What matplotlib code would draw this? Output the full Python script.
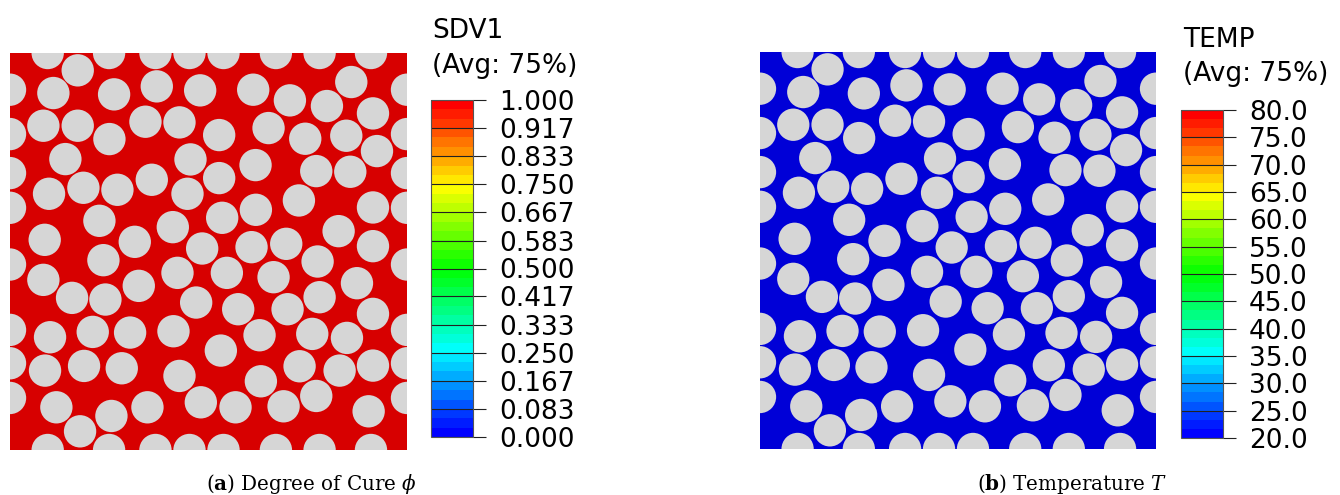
import numpy as np
import matplotlib
matplotlib.use("Agg")
import matplotlib.pyplot as plt
from matplotlib.patches import Circle
from matplotlib.colors import LinearSegmentedColormap, ListedColormap, BoundaryNorm
from matplotlib.cm import ScalarMappable

plt.rcParams['mathtext.fontset'] = 'dejavuserif'

# Periodic RVE: side length and fibre radius (um)
cell_size = 119.0
fiber_radius = 4.85

# Fibre centres (fibres cut by the boundary sit on x=0 or y=0 and repeat periodically)
fiber_x = [11.3, 29.7, 43.6, 53.8, 64.0, 79.7, 92.8, 108.2,
           0.0, 0.0, 0.0, 0.0, 0.0, 0.0, 0.0, 0.0,
           20.3, 13.0, 31.2, 44.0, 57.0, 72.9, 83.9, 95.0, 102.3, 108.8,
           10.0, 20.3, 29.8, 40.6, 50.8, 62.7, 77.5, 88.5, 100.8, 110.0,
           16.6, 54.1, 73.6, 91.8, 102.0,
           11.7, 22.0, 32.2, 42.5, 53.2, 62.7, 73.7, 86.6, 108.8,
           26.8, 48.8, 63.6, 98.5,
           10.4, 37.4, 57.6, 72.4, 82.8, 108.8,
           28.0, 92.2, 50.2, 65.0, 79.0, 104.0, 10.0,
           18.6, 28.6, 38.6, 55.8, 68.4, 83.2, 92.8, 108.8,
           12.0, 24.8, 36.0, 49.0, 74.8, 90.6, 101.0, 63.2,
           10.5, 22.2, 33.5, 50.8, 86.8, 98.8, 108.8, 75.2,
           13.9, 30.4, 41.2, 57.2, 67.6, 82.0, 91.8, 107.5, 21.0]
fiber_y = [0.0, 0.0, 0.0, 0.0, 0.0, 0.0, 0.0, 0.0,
           108.0, 94.7, 83.0, 72.6, 55.6, 36.0, 26.0, 15.6,
           113.8, 107.0, 106.6, 109.0, 107.8, 108.0, 104.8, 103.1, 110.3, 100.9,
           97.2, 97.2, 93.2, 98.4, 98.2, 94.4, 96.5, 93.3, 94.2, 89.6,
           87.2, 87.1, 85.4, 83.6, 83.4,
           76.8, 78.6, 78.0, 81.0, 76.8, 81.5, 72.0, 74.8, 72.7,
           68.7, 66.8, 69.6, 65.6,
           63.0, 62.4, 60.4, 60.8, 61.8, 61.1,
           56.9, 56.5, 53.1, 53.1, 51.8, 50.0, 51.0,
           45.6, 45.1, 49.2, 44.2, 42.2, 42.2, 45.8, 40.8,
           33.8, 35.4, 35.2, 35.6, 34.4, 34.8, 33.6, 29.8,
           23.8, 25.2, 24.5, 22.2, 25.1, 23.8, 25.3, 20.6,
           12.8, 10.2, 12.8, 14.3, 12.8, 13.1, 16.2, 11.6, 5.6]

# Contour legends
cure_ticks = [0.000, 0.083, 0.167, 0.250, 0.333, 0.417, 0.500,
              0.583, 0.667, 0.750, 0.833, 0.917, 1.000]
cure_labels = ['0.000', '0.083', '0.167', '0.250', '0.333', '0.417', '0.500',
               '0.583', '0.667', '0.750', '0.833', '0.917', '1.000']
temp_ticks = [20.0, 25.0, 30.0, 35.0, 40.0, 45.0, 50.0,
              55.0, 60.0, 65.0, 70.0, 75.0, 80.0]
temp_labels = ['20.0', '25.0', '30.0', '35.0', '40.0', '45.0', '50.0',
               '55.0', '60.0', '65.0', '70.0', '75.0', '80.0']

# Field value in the matrix for each plot
matrix_cure = 1.0
matrix_temp = 20.0

n_bands = 36
fiber_color = '#d6d6d6'
shade = 0.845

rainbow = LinearSegmentedColormap.from_list(
    'spectrum', ['#0000ff', '#00ffff', '#00ff00', '#ffff00', '#ff0000'])
band_colors = [rainbow(i / (n_bands - 1)) for i in range(n_bands)]
band_cmap = ListedColormap(band_colors)


def band_color(value, vmin, vmax):
    idx = min(int((value - vmin) / (vmax - vmin) * n_bands), n_bands - 1)
    r, g, b, _ = band_colors[idx]
    return (r * shade, g * shade, b * shade)


W, H = 1340, 495
fig = plt.figure(figsize=(W / 100, H / 100), dpi=100)


def fig_rect(x0, y0, x1, y1):
    return [x0 / W, 1 - y1 / H, (x1 - x0) / W, (y1 - y0) / H]


def draw_rve(rect, matrix_color):
    ax = fig.add_axes(rect)
    ax.set_facecolor(matrix_color)
    for x, y in zip(fiber_x, fiber_y):
        for dx in (-cell_size, 0.0, cell_size):
            for dy in (-cell_size, 0.0, cell_size):
                cx, cy = x + dx, y + dy
                if (-fiber_radius < cx < cell_size + fiber_radius and
                        -fiber_radius < cy < cell_size + fiber_radius):
                    ax.add_patch(Circle((cx, cy), fiber_radius,
                                        facecolor=fiber_color, edgecolor='none'))
    ax.set_xlim(0, cell_size)
    ax.set_ylim(0, cell_size)
    ax.set_xticks([])
    ax.set_yticks([])
    for s in ax.spines.values():
        s.set_visible(False)
    return ax


def draw_legend(rect, ticks, labels, title, title_xy, avg_y):
    cax = fig.add_axes(rect)
    vmin, vmax = ticks[0], ticks[-1]
    norm = BoundaryNorm(np.linspace(vmin, vmax, n_bands + 1), n_bands)
    cb = fig.colorbar(ScalarMappable(norm=norm, cmap=band_cmap), cax=cax)
    cb.set_ticks(ticks, labels=labels)
    cb.minorticks_off()
    cax.tick_params(axis='y', length=9.6, width=0.8, color='#222222',
                    labelsize=19, pad=9, direction='out')
    cax.hlines(ticks, 0, 1, colors='#222222', lw=0.8,
               transform=cax.get_yaxis_transform())
    cb.outline.set_edgecolor('#555555')
    cb.outline.set_linewidth(0.8)
    fig.text(title_xy[0] / W, 1 - title_xy[1] / H, title, fontsize=19,
             ha='left', va='baseline')
    fig.text(title_xy[0] / W, 1 - avg_y / H, '(Avg: 75%)', fontsize=19,
             ha='left', va='baseline')
    return cb


plt.rcParams['font.family'] = ['DejaVu Sans']

# (a) degree of cure
draw_rve(fig_rect(10, 53, 407, 450), band_color(matrix_cure, 0.0, 1.0))
draw_legend(fig_rect(431, 100, 473, 437), cure_ticks, cure_labels,
            'SDV1', (432, 38.3), 72.7)

# (b) temperature
draw_rve(fig_rect(760, 52, 1156, 449), band_color(matrix_temp, 20.0, 80.0))
draw_legend(fig_rect(1181, 110, 1223, 438), temp_ticks, temp_labels,
            'TEMP', (1183, 47.3), 81.0)

fig.text(206 / W, 1 - 490 / H, r'($\mathbf{a}$) Degree of Cure $\phi$',
         ha='left', va='baseline', fontsize=14.3, family='DejaVu Serif')
fig.text(977 / W, 1 - 490 / H, r'($\mathbf{b}$) Temperature $T$',
         ha='left', va='baseline', fontsize=14.3, family='DejaVu Serif')

fig.savefig('out.png', dpi=100, facecolor='white')
